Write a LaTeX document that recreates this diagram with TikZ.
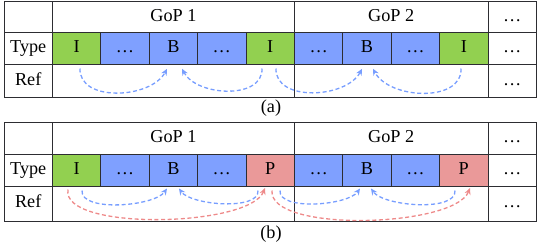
\documentclass[tikz,border=0pt]{standalone}
\usepackage{fontspec}
\setmainfont{Liberation Serif}
\usetikzlibrary{arrows.meta}
\definecolor{cgreen}{RGB}{146,208,80}
\definecolor{cblue}{RGB}{127,160,255}
\definecolor{cred}{RGB}{234,153,153}
\definecolor{ablue}{RGB}{120,158,255}
\definecolor{ared}{RGB}{238,138,138}
\definecolor{gridc}{RGB}{45,45,50}
\begin{document}
\begin{tikzpicture}[x=1pt,y=-1pt,
  txt/.style={font=\fontsize{18.2}{20}\selectfont},
  cell/.style={txt,draw=gridc,line width=1pt,minimum width=48.4pt,inner sep=0pt,text height=12.3pt,text depth=3.8pt},
  wide/.style={cell,minimum width=#1},
  hrow/.style={minimum height=31.5pt},
  trow/.style={minimum height=32pt},
  arrbase/.style={line width=1.3pt,dash pattern=on 4pt off 2.6pt,-{Stealth[length=6.5pt,width=6pt]}},
  barr/.style={arrbase,ablue},
  rarr/.style={arrbase,ared}]
\useasboundingbox (0,0) rectangle (540,244);

% ---------------- table (a) ----------------
\node[cell,hrow] (ah0) at (28.2,16.75) {};
\node[wide=242pt,hrow] (ag1) at (173.4,16.75) {GoP 1};
\node[wide=193.6pt,hrow] (ag2) at (391.2,16.75) {GoP 2};
\node[cell,hrow] (ah3) at (512.2,16.75) {…};

\node[cell,trow] (a0) at (28.2,48.5) {Type};
\foreach \k/\lab/\col in {1/I/cgreen,2/…/cblue,3/B/cblue,4/…/cblue,5/I/cgreen,6/…/cblue,7/B/cblue,8/…/cblue,9/I/cgreen}
  \node[cell,trow,fill=\col] (a\k) at ({4+48.4*\k+24.2},48.5) {\lab};
\node[cell,trow] (a10) at (512.2,48.5) {…};

\node[cell,minimum height=33pt] (ar0) at (28.2,81) {Ref};
\node[wide=242pt,minimum height=33pt] (ar1) at (173.4,81) {};
\node[wide=193.6pt,minimum height=33pt] (ar2) at (391.2,81) {};
\node[cell,minimum height=33pt] (ar3) at (512.2,81) {…};

\node[txt] (capa) at (271,108) {(a)};

\draw[barr] ([xshift=3.4pt,yshift=-3.5pt]a1.south) to[out=-92,in=-118,looseness=1.0] ([xshift=-6.4pt,yshift=-3.8pt]a3.south);
\draw[barr] ([xshift=-8.2pt,yshift=-3.5pt]a5.south) to[out=-88,in=-62,looseness=1.0] ([xshift=8.6pt,yshift=-3.8pt]a3.south);
\draw[barr] ([xshift=5.8pt,yshift=-3.5pt]a5.south) to[out=-92,in=-118,looseness=1.0] ([xshift=-5pt,yshift=-3.8pt]a7.south);
\draw[barr] ([xshift=-2.8pt,yshift=-3.5pt]a9.south) to[out=-88,in=-62,looseness=1.0] ([xshift=6pt,yshift=-3.8pt]a7.south);

% ---------------- table (b) ----------------
\node[cell,hrow] (bh0) at (28.2,138.25) {};
\node[wide=242pt,hrow] (bg1) at (173.4,138.25) {GoP 1};
\node[wide=193.6pt,hrow] (bg2) at (391.2,138.25) {GoP 2};
\node[cell,hrow] (bh3) at (512.2,138.25) {…};

\node[cell,trow] (b0) at (28.2,170) {Type};
\foreach \k/\lab/\col in {1/I/cgreen,2/…/cblue,3/B/cblue,4/…/cblue,5/P/cred,6/…/cblue,7/B/cblue,8/…/cblue,9/P/cred}
  \node[cell,trow,fill=\col] (b\k) at ({4+48.4*\k+24.2},170) {\lab};
\node[cell,trow] (b10) at (512.2,170) {…};

\node[cell,minimum height=35pt] (br0) at (28.2,203.5) {Ref};
\node[wide=242pt,minimum height=35pt] (br1) at (173.4,203.5) {};
\node[wide=193.6pt,minimum height=35pt] (br2) at (391.2,203.5) {};
\node[cell,minimum height=35pt] (br3) at (512.2,203.5) {…};

\node[txt] (capb) at (271,234) {(b)};

\draw[rarr] ([xshift=-8.6pt,yshift=-3pt]b1.south) to[out=-100,in=-112,looseness=0.55] ([xshift=-5.2pt,yshift=-1.5pt]b5.south);
\draw[rarr] ([xshift=1.8pt,yshift=-4pt]b5.south) to[out=-95,in=-112,looseness=0.55] ([xshift=6.2pt,yshift=-1.5pt]b9.south);
\draw[barr] ([xshift=5.4pt,yshift=-4pt]b1.south) to[out=-95,in=-125,looseness=0.66] ([xshift=-6.4pt,yshift=-2pt]b3.south);
\draw[barr] ([xshift=-12.2pt,yshift=-4pt]b5.south) to[out=-85,in=-55,looseness=0.66] ([xshift=5.6pt,yshift=-2pt]b3.south);
\draw[barr] ([xshift=9.8pt,yshift=-4pt]b5.south) to[out=-95,in=-125,looseness=0.66] ([xshift=-7pt,yshift=-2pt]b7.south);
\draw[barr] ([xshift=-8.8pt,yshift=-4pt]b9.south) to[out=-85,in=-55,looseness=0.66] ([xshift=4pt,yshift=-2pt]b7.south);
\end{tikzpicture}
\end{document}
